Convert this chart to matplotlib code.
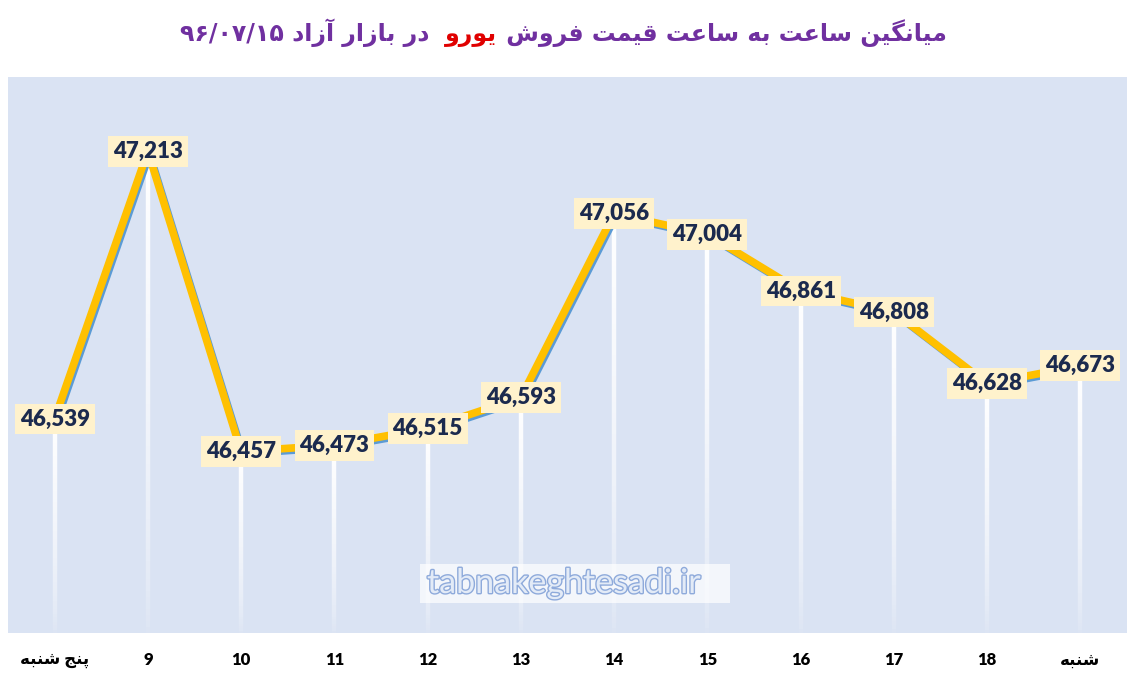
import numpy as np
import matplotlib
matplotlib.use("Agg")
import matplotlib.pyplot as plt
from matplotlib.collections import LineCollection
from matplotlib.transforms import ScaledTranslation
from matplotlib.offsetbox import TextArea, HPacker, AnnotationBbox
from matplotlib.patches import Rectangle
import matplotlib.patheffects as pe

# ---------------- data ----------------
categories = ["پنج شنبه", "9", "10", "11", "12", "13", "14", "15", "16", "17", "18", "شنبه"]
values = [46539, 47213, 46457, 46473, 46515, 46593, 47056, 47004, 46861, 46808, 46628, 46673]
title_part1 = "میانگین ساعت به ساعت قیمت فروش"
title_part2 = "یورو"
title_part3 = "در بازار آزاد"
title_date = "۹۶/۰۷/۱۵"
watermark = "tabnakeghtesadi.ir"
y_min, y_max = 46000, 47400

# ---------------- minimal Persian shaping ----------------
FORMS = {
    '\u0622': ('\uFE81', '\uFE82', None, None),
    '\u0627': ('\uFE8D', '\uFE8E', None, None),
    '\u0628': ('\uFE8F', '\uFE90', '\uFE91', '\uFE92'),
    '\u067E': ('\uFB56', '\uFB57', '\uFB58', '\uFB59'),
    '\u062A': ('\uFE95', '\uFE96', '\uFE97', '\uFE98'),
    '\u062C': ('\uFE9D', '\uFE9E', '\uFE9F', '\uFEA0'),
    '\u062F': ('\uFEA9', '\uFEAA', None, None),
    '\u0631': ('\uFEAD', '\uFEAE', None, None),
    '\u0632': ('\uFEAF', '\uFEB0', None, None),
    '\u0633': ('\uFEB1', '\uFEB2', '\uFEB3', '\uFEB4'),
    '\u0634': ('\uFEB5', '\uFEB6', '\uFEB7', '\uFEB8'),
    '\u0639': ('\uFEC9', '\uFECA', '\uFECB', '\uFECC'),
    '\u0641': ('\uFED1', '\uFED2', '\uFED3', '\uFED4'),
    '\u0642': ('\uFED5', '\uFED6', '\uFED7', '\uFED8'),
    '\u06AF': ('\uFB92', '\uFB93', '\uFB94', '\uFB95'),
    '\u0644': ('\uFEDD', '\uFEDE', '\uFEDF', '\uFEE0'),
    '\u0645': ('\uFEE1', '\uFEE2', '\uFEE3', '\uFEE4'),
    '\u0646': ('\uFEE5', '\uFEE6', '\uFEE7', '\uFEE8'),
    '\u0647': ('\uFEE9', '\uFEEA', '\uFEEB', '\uFEEC'),
    '\u0648': ('\uFEED', '\uFEEE', None, None),
    '\u06CC': ('\uFBFC', '\uFBFD', '\uFBFE', '\uFBFF'),
}


def shape_rtl(text):
    out = []
    for i, c in enumerate(text):
        if c not in FORMS:
            out.append(c)
            continue
        prev = text[i - 1] if i > 0 else None
        nxt = text[i + 1] if i + 1 < len(text) else None
        jp = prev in FORMS and FORMS[prev][2] is not None
        jn = nxt in FORMS and FORMS[c][2] is not None
        iso, fin, ini, med = FORMS[c]
        if jp and jn:
            out.append(med)
        elif jp:
            out.append(fin)
        elif jn:
            out.append(ini)
        else:
            out.append(iso)
    return ''.join(out)[::-1]


def label_text(s):
    return shape_rtl(s) if any(ch in FORMS for ch in s) else s


# ---------------- figure ----------------
fig = plt.figure(figsize=(11.35, 6.81), dpi=100)
fig.patch.set_facecolor("white")
ax = fig.add_axes([8 / 1135, 1 - 633 / 681, 1119 / 1135, 556 / 681])
ax.set_facecolor("#dae3f3")
for s in ax.spines.values():
    s.set_visible(False)
ax.set_xlim(-0.5, len(categories) - 0.5)
ax.set_ylim(y_min, y_max)
ax.set_yticks([])

x = np.arange(len(categories))

# drop lines with fading gradient
segs, cols = [], []
n = 80
for xi, v in zip(x, values):
    ys = np.linspace(v, y_min, n + 1)
    for k in range(n):
        t = k / n
        segs.append([(xi, ys[k]), (xi, ys[k + 1])])
        a = max(0.0, 1 - t) ** 0.6
        cols.append((1, 1, 1, a))
ax.add_collection(LineCollection(segs, colors=cols, linewidths=3.2, zorder=2,
                                 capstyle="butt"))

# shadow line + main line
shadow = ax.transData + ScaledTranslation(0.02, -0.025, fig.dpi_scale_trans)
ax.plot(x, values, color="#5b9bd5", lw=5.0, transform=shadow, zorder=3,
        solid_joinstyle="miter", solid_capstyle="butt")
ax.plot(x, values, color="#ffc000", lw=5.5, zorder=4,
        solid_joinstyle="miter", solid_capstyle="butt")

# data labels
for xi, v in zip(x, values):
    ax.text(xi, v, f"{v:,}", ha="center", va="center", fontsize=16,
            fontweight="heavy", family=["Lato", "DejaVu Sans"], color="#1b2a4e",
            zorder=6,
            bbox=dict(boxstyle="square,pad=0.22", fc="#fff2cc", ec="none"))

# tick labels
ax.set_xticks(x)
ax.set_xticklabels([label_text(c) for c in categories])
ax.tick_params(axis="x", length=0, pad=14)
for lbl in ax.get_xticklabels():
    lbl.set_fontfamily(["Lato", "DejaVu Sans"])
    lbl.set_fontweight("heavy")
    lbl.set_fontsize(12)
    lbl.set_color("black")

# watermark (white glow panel + outlined text)
ax.add_patch(Rectangle((420 / 1135, 1 - 603 / 681), 310 / 1135, 39 / 681,
                       transform=fig.transFigure, fc="white", ec="none",
                       alpha=0.7, zorder=5))
ax.text(427, 1 - 582 / 681 * 1.0, watermark, transform=None, alpha=0)  # placeholder removed below
wm = ax.texts[-1]
wm.remove()
ax.text(427 / 1135, 1 - 583 / 681, watermark, transform=fig.transFigure,
        ha="left", va="center", fontsize=24.5,
        family=["Lato", "DejaVu Sans"], color="#e3ebf7", zorder=5.5,
        path_effects=[pe.withStroke(linewidth=2.0, foreground="#8eaadb")])

# title (visual order left -> right)
tprops = dict(fontsize=17, fontweight="bold", family=["DejaVu Sans"])
left = title_date + " " + shape_rtl(title_part3) + "  "
mid = shape_rtl(title_part2)
right = " " + shape_rtl(title_part1)
boxes = [TextArea(left, textprops=dict(color="#7030a0", **tprops)),
         TextArea(mid, textprops=dict(color="#e00000", **tprops)),
         TextArea(right, textprops=dict(color="#7030a0", **tprops))]
pack = HPacker(children=boxes, align="baseline", pad=0, sep=0)
ab = AnnotationBbox(pack, (563 / 1135, 1 - 33 / 681), xycoords="figure fraction",
                    frameon=False, box_alignment=(0.5, 0.5))
fig.add_artist(ab)

fig.savefig("out.png", dpi=100, facecolor="white")
